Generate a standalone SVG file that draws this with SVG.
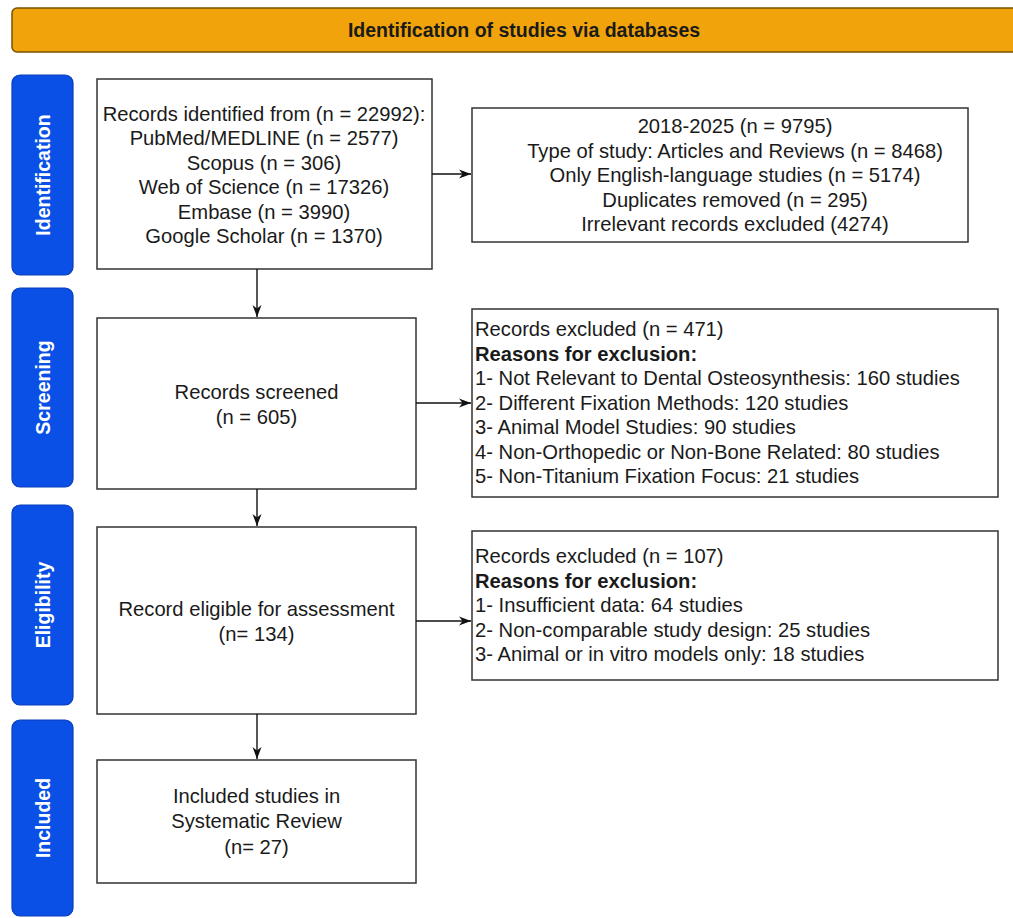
<svg xmlns="http://www.w3.org/2000/svg" width="1013" height="918" viewBox="0 0 1013 918">
<defs>
<style>
.bg{fill:#ffffff}
.hdr{fill:#f0a30a;stroke:#7a5200;stroke-width:1.5}
.hdrt{font-family:"Liberation Sans",Arial,sans-serif;font-size:19.5px;font-weight:bold;fill:#1a1a1a;text-anchor:middle}
.phase{fill:#0a50e6;stroke:#0a3cb8;stroke-width:1.2}
.phaset{font-family:"Liberation Sans",Arial,sans-serif;font-size:19.5px;font-weight:bold;fill:#ffffff;text-anchor:middle}
.box{fill:#ffffff;stroke:#333333;stroke-width:1.5}
.t{font-family:"Liberation Sans",Arial,sans-serif;font-size:20.2px;fill:#1a1a1a}
.c{text-anchor:middle}
.b{font-weight:bold}
.edge{fill:none;stroke:#111111;stroke-width:1.4}
</style>
<marker id="arr" viewBox="0 0 12 10" refX="12" refY="5" markerWidth="12" markerHeight="10" markerUnits="userSpaceOnUse" orient="auto">
<path d="M0,0.5 L12,5 L0,9.5 L3.5,5 Z" fill="#111111"/>
</marker>
</defs>
<rect class="bg" x="0" y="0" width="1013" height="918"/>

<g id="header">
<rect class="hdr" x="12" y="8" width="1010" height="44" rx="5"/>
<text class="hdrt" x="524" y="37">Identification of studies via databases</text>
</g>

<g id="phase-identification">
<rect class="phase" x="12" y="75" width="61" height="200" rx="8"/>
<text class="phaset" transform="translate(43,175) rotate(-90)" x="0" y="7">Identification</text>
</g>
<g id="phase-screening">
<rect class="phase" x="12" y="288" width="61" height="199" rx="8"/>
<text class="phaset" transform="translate(43,387.5) rotate(-90)" x="0" y="7">Screening</text>
</g>
<g id="phase-eligibility">
<rect class="phase" x="12" y="505" width="61" height="200" rx="8"/>
<text class="phaset" transform="translate(43,605) rotate(-90)" x="0" y="7">Eligibility</text>
</g>
<g id="phase-included">
<rect class="phase" x="12" y="720" width="61" height="196" rx="8"/>
<text class="phaset" transform="translate(43,818) rotate(-90)" x="0" y="7">Included</text>
</g>

<g id="records-identified">
<rect class="box" x="97" y="79" width="335" height="190"/>
<text class="t c" x="264" y="120.5">Records identified from (n = 22992):</text>
<text class="t c" x="264" y="145">PubMed/MEDLINE (n = 2577)</text>
<text class="t c" x="264" y="169.5">Scopus (n = 306)</text>
<text class="t c" x="264" y="194">Web of Science (n = 17326)</text>
<text class="t c" x="264" y="218.5">Embase (n = 3990)</text>
<text class="t c" x="264" y="243">Google Scholar (n = 1370)</text>
</g>

<g id="filters">
<rect class="box" x="472" y="108" width="496" height="134"/>
<text class="t c" x="735" y="133">2018-2025 (n = 9795)</text>
<text class="t c" x="735" y="157.5">Type of study: Articles and Reviews (n = 8468)</text>
<text class="t c" x="735" y="182">Only English-language studies (n = 5174)</text>
<text class="t c" x="735" y="206.5">Duplicates removed (n = 295)</text>
<text class="t c" x="735" y="231">Irrelevant records excluded (4274)</text>
</g>

<g id="records-screened">
<rect class="box" x="97" y="318" width="319" height="171"/>
<text class="t c" x="256.5" y="399">Records screened</text>
<text class="t c" x="256.5" y="423.5">(n = 605)</text>
</g>

<g id="excluded-screening">
<rect class="box" x="472" y="309" width="526" height="188"/>
<text class="t" x="475" y="336">Records excluded (n = 471)</text>
<text class="t b" x="475" y="360.5">Reasons for exclusion:</text>
<text class="t" x="475" y="385">1- Not Relevant to Dental Osteosynthesis: 160 studies</text>
<text class="t" x="475" y="409.5">2- Different Fixation Methods: 120 studies</text>
<text class="t" x="475" y="434">3- Animal Model Studies: 90 studies</text>
<text class="t" x="475" y="458.5">4- Non-Orthopedic or Non-Bone Related: 80 studies</text>
<text class="t" x="475" y="483">5- Non-Titanium Fixation Focus: 21 studies</text>
</g>

<g id="eligible">
<rect class="box" x="97" y="527" width="319" height="187"/>
<text class="t c" x="256.5" y="616">Record eligible for assessment</text>
<text class="t c" x="256.5" y="640.5">(n= 134)</text>
</g>

<g id="excluded-eligibility">
<rect class="box" x="472" y="531" width="526" height="149"/>
<text class="t" x="475" y="563">Records excluded (n = 107)</text>
<text class="t b" x="475" y="587.5">Reasons for exclusion:</text>
<text class="t" x="475" y="612">1- Insufficient data: 64 studies</text>
<text class="t" x="475" y="636.5">2- Non-comparable study design: 25 studies</text>
<text class="t" x="475" y="661">3- Animal or in vitro models only: 18 studies</text>
</g>

<g id="included">
<rect class="box" x="97" y="760" width="319" height="123"/>
<text class="t c" x="256.5" y="803">Included studies in</text>
<text class="t c" x="256.5" y="828">Systematic Review</text>
<text class="t c" x="256.5" y="853.5">(n= 27)</text>
</g>

<g id="connectors">
<path class="edge" d="M432,174 L471,174" marker-end="url(#arr)"/>
<path class="edge" d="M257,269 L257,317" marker-end="url(#arr)"/>
<path class="edge" d="M416,403 L471,403" marker-end="url(#arr)"/>
<path class="edge" d="M257,489 L257,526" marker-end="url(#arr)"/>
<path class="edge" d="M416,621 L471,621" marker-end="url(#arr)"/>
<path class="edge" d="M257,714 L257,759" marker-end="url(#arr)"/>
</g>
</svg>
